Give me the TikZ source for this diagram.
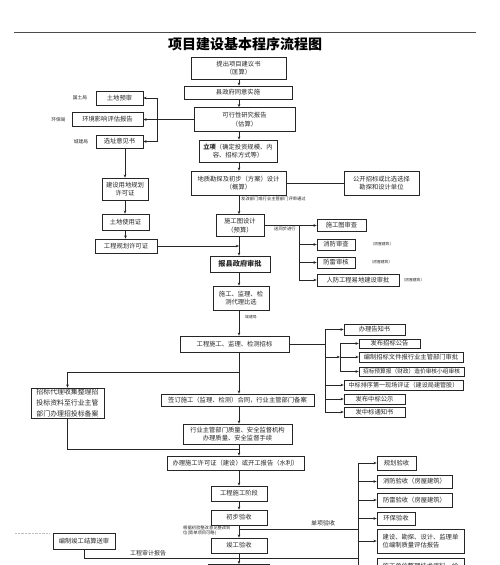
\documentclass[tikz,border=0pt]{standalone}
\usepackage{fontspec}
\newfontfamily\cjk{Noto Sans CJK SC}
\usetikzlibrary{arrows.meta}
\tikzset{
	kuang/.style={draw=black!85,line width=0.6pt,inner sep=0pt,align=center,text=black!85,
		font=\cjk\fontsize{6.3}{8.6}\selectfont},
	jt/.style={-{Stealth[length=3.2pt,width=2.6pt]},line width=0.5pt,draw=black!85},
	xian/.style={line width=0.5pt,draw=black!85},
	xiao/.style={inner sep=0pt,text=black!85,font=\cjk\fontsize{4.3}{5.2}\selectfont},
}
\begin{document}
\begin{tikzpicture}[x=1pt,y=-1pt]
	\useasboundingbox (0,0) rectangle (500,565);
	\clip (0,0) rectangle (500,565);
	\draw[black!70,line width=0.8pt] (14,32)--(476,32);
	\node[font=\cjk\bfseries\fontsize{14}{16}\selectfont] (biaoti) at (245,44.5) {项目建设基本程序流程图};
	\coordinate (ax) at (239,0);
	% 主线
	\node[kuang,minimum width=95pt,minimum height=22pt] (jys) at (238.5,68) {提出项目建议书\\（匡算）};
	\node[kuang,minimum width=108pt,minimum height=13pt] (tyss) at (238,92.5) {县政府同意实施};
	\node[kuang,minimum width=101pt,minimum height=24pt] (kxx) at (244.5,119.5) {可行性研究报告\\（估算）};
	\node[kuang,minimum width=78pt,minimum height=22pt] (lx) at (238,151) {{\bfseries 立项}（确定投资规模、内\\容、招标方式等）};
	\node[kuang,minimum width=95pt,minimum height=24pt] (kt) at (238.5,183) {地质勘探及初步（方案）设计\\（概算）};
	\node[kuang,minimum width=75pt,minimum height=24pt] (gkzb) at (381.5,183) {公开招标或比选选择\\勘探和设计单位};
	\node[kuang,minimum width=48pt,minimum height=22pt] (sgt) at (240,225.5) {施工图设计\\（预算）};
	\node[kuang,minimum width=60pt,minimum height=16pt,font=\cjk\bfseries\fontsize{7.2}{9}\selectfont] (bxzf) at (240,264) {报县政府审批};
	\node[kuang,minimum width=56pt,minimum height=24pt] (bx) at (241,298) {施工、监理、检\\测代理比选};
	\node[kuang,minimum width=109pt,minimum height=16pt] (zb) at (234.5,344) {工程施工、监理、检测招标};
	\node[kuang,minimum width=153pt,minimum height=12pt] (ht) at (237.5,400) {签订施工（监理、检测）合同，行业主管部门备案};
	\node[kuang,minimum width=109pt,minimum height=20pt] (jd) at (237.5,434) {行业主管部门质量、安全监督机构\\办理质量、安全监督手续};
	\node[kuang,minimum width=137pt,minimum height=14pt] (xkz) at (235.5,463) {办理施工许可证（建设）或开工报告（水利）};
	\node[kuang,minimum width=56pt,minimum height=15pt] (sgjd) at (239,493.5) {工程施工阶段};
	\node[kuang,minimum width=56pt,minimum height=15pt] (cbys) at (239,517.5) {初步验收};
	\node[kuang,minimum width=56pt,minimum height=15pt] (jgys) at (239,545.5) {竣工验收};
	\node[kuang,minimum width=61pt,minimum height=16pt,anchor=north] (xia) at (238.5,564) {};
	\foreach \a/\b in {jys/tyss,tyss/kxx,kxx/lx,lx/kt,kt/sgt,sgt/bxzf,bxzf/bx,bx/zb,zb/ht,ht/jd,jd/xkz,xkz/sgjd,sgjd/cbys,cbys/jgys,jgys/xia}
		\draw[jt] (ax |- \a.south) -- (ax |- \b.north);
	\draw[xian] (kt.east) -- (gkzb.west);
	\node[xiao,anchor=west] (pstg) at (241,199) {发改部门或行业主管部门评审通过};
	% 左侧
	\node[kuang,minimum width=47pt,minimum height=14pt] (tdys) at (119.5,98) {土地预审};
	\node[kuang,minimum width=71pt,minimum height=14pt] (hp) at (107.5,119.5) {环境影响评估报告};
	\node[kuang,minimum width=47pt,minimum height=13pt] (xz) at (119.5,141.5) {选址意见书};
	\node[xiao,font=\cjk\fontsize{4.7}{5.5}\selectfont] (gtj) at (80,97.5) {国土局};
	\node[xiao,font=\cjk\fontsize{4.7}{5.5}\selectfont] (hbj) at (58.5,119.5) {环保局};
	\node[xiao,font=\cjk\fontsize{4.7}{5.5}\selectfont] (cjj) at (81,141.5) {城建局};
	\coordinate (fz) at (157,0);
	\draw[jt] (kxx.west) -- (hp.east);
	\draw[xian] (fz |- tdys) -- (fz |- xz);
	\draw[jt] (fz |- tdys) -- (tdys.east);
	\draw[jt] (fz |- xz) -- (xz.east);
	\node[kuang,minimum width=46pt,minimum height=22pt] (ydgh) at (125,189) {建设用地规划\\许可证};
	\node[kuang,minimum width=47pt,minimum height=16pt] (tdsy) at (125.5,222) {土地使用证};
	\node[kuang,minimum width=62pt,minimum height=14pt] (gcgh) at (126,246) {工程规划许可证};
	\draw[jt] (ydgh.north |- xz.south) -- (ydgh.north);
	\draw[jt] (ydgh.south) -- (ydgh.south |- tdsy.north);
	\draw[jt] (tdsy.south) -- (tdsy.south |- gcgh.north);
	\draw[jt] (gcgh.east) -- (ax |- gcgh);
	% 施工图审查
	\node[kuang,minimum width=49pt,minimum height=12pt] (sct) at (341.5,225.5) {施工图审查};
	\node[kuang,minimum width=38pt,minimum height=11pt] (xf) at (336,244.5) {消防审查};
	\node[kuang,minimum width=38pt,minimum height=11pt] (fl) at (336,262.5) {防雷审核};
	\node[kuang,minimum width=82pt,minimum height=12pt] (rf) at (358,280) {人防工程易地建设审批};
	\node[xiao,font=\cjk\fontsize{3.8}{4.5}\selectfont,anchor=west] (fw1) at ([xshift=15pt]xf.east) {（房屋建筑）};
	\node[xiao,font=\cjk\fontsize{3.8}{4.5}\selectfont,anchor=west] (fw2) at ([xshift=14pt]fl.east) {（房屋建筑）};
	\node[xiao,font=\cjk\fontsize{3.8}{4.5}\selectfont,anchor=west] (fw3) at ([xshift=2pt]rf.east) {（房屋建筑）};
	\node[xiao,anchor=west] (tbjx) at (274,228.5) {送同步进行};
	\coordinate (tb) at (299,0);
	\draw[jt] (sgt.east) -- (sct.west);
	\draw[xian] (tb |- sct) -- (tb |- rf);
	\foreach \n in {xf,fl,rf} \draw[jt] (tb |- \n) -- (\n.west);
	\node[xiao,font=\cjk\fontsize{3.8}{4.5}\selectfont,anchor=west] (cjj2) at (245,317) {城建局};
	% 招标
	\node[kuang,minimum width=61pt,minimum height=11pt] (gzs) at (374.5,329.5) {办理告知书};
	\node[kuang,minimum width=61pt,minimum height=9pt] (fbgg) at (389.5,343.5) {发布招标公告};
	\node[kuang,minimum width=104pt,minimum height=10pt] (bzwj) at (411,357) {编制招标文件报行业主管部门审批};
	\node[kuang,minimum width=105pt,minimum height=9pt,font=\cjk\fontsize{5.7}{7}\selectfont] (ysbs) at (411.5,371.5) {招标预算报（财政）造价审核小组审核};
	\node[kuang,minimum width=119pt,minimum height=10pt,font=\cjk\fontsize{6.1}{7}\selectfont] (pz) at (403.5,385) {中标排序第一现场评证（建设局建管股）};
	\node[kuang,minimum width=61pt,minimum height=10pt] (gs) at (374.5,399) {发布中标公示};
	\node[kuang,minimum width=61pt,minimum height=10pt] (tzs) at (374.5,412) {发中标通知书};
	\coordinate (zx) at (325,0);
	\coordinate (zx2) at (340,0);
	\draw[xian] (zb.east) -- (zx |- zb);
	\draw[xian] (zx |- gzs) -- (zx |- tzs);
	\foreach \n in {gzs,pz,gs,tzs} \draw[jt] (zx |- \n) -- (\n.west);
	\draw[jt] (zx |- bzwj) -- (zx2 |- bzwj);
	\draw[xian] (zx2 |- fbgg) -- (zx2 |- ysbs);
	\foreach \n in {fbgg,bzwj,ysbs} \draw[jt] (zx2 |- \n) -- (\n.west);
	\node[kuang,minimum width=73pt,minimum height=30pt,font=\cjk\fontsize{6.9}{10.8}\selectfont] (ba) at (67.5,403) {招标代理收集整理招\\投标资料至行业主管\\部门办理招投标备案};
	\coordinate (fc) at (239,372);
	\coordinate (hc) at (239,449);
	\draw[jt] (fc) -| (ba.north);
	\draw[xian] (ba.south) |- (hc);
	% 验收
	\node[kuang,minimum width=39pt,minimum height=14pt] (ghys) at (396.5,463) {规划验收};
	\node[kuang,minimum width=75pt,minimum height=13pt] (xfys) at (414.5,481.5) {消防验收（房屋建筑）};
	\node[kuang,minimum width=75pt,minimum height=14pt] (flys) at (414.5,500) {防雷验收（房屋建筑）};
	\node[kuang,minimum width=38pt,minimum height=13pt] (hbys) at (396,518.5) {环保验收};
	\node[kuang,minimum width=87pt,minimum height=24pt,align=left] (pgbg) at (420.5,541) {建设、勘探、设计、监理单\\位编制质量评估报告};
	\node[kuang,minimum width=87pt,minimum height=24pt,anchor=north,align=left] (jszl) at (420.5,558) {施工单位整理技术资料、绘\\};
	\coordinate (ac) at (358,0);
	\draw[xian] (ac |- ghys) -- (ac |- jszl.south);
	\foreach \n in {ghys,xfys,flys,hbys,pgbg,jszl} \draw[jt] (ac |- \n) -- (\n.west);
	\coordinate (dx) at (239,529);
	\draw[xian] (dx) -- (ac |- dx);
	\node[xiao,font=\cjk\fontsize{6}{7}\selectfont] (dxys) at (323,523) {单项验收};
	\node[xiao,anchor=north west,align=left] (zg) at (183,525.5) {根据初验整改意见整改到\\位(简单项目可略)};
	\node[kuang,minimum width=62pt,minimum height=16pt] (jsss) at (84,541) {编制竣工结算送审};
	\coordinate (sjd) at (358,558);
	\draw[xian] (jsss.south) |- (sjd);
	\node[xiao,font=\cjk\fontsize{6}{7}\selectfont] (sjbg) at (148,553) {工程审计报告};
	\draw[black!25,densely dotted] (15,533)--(50,533);
\end{tikzpicture}
\end{document}
